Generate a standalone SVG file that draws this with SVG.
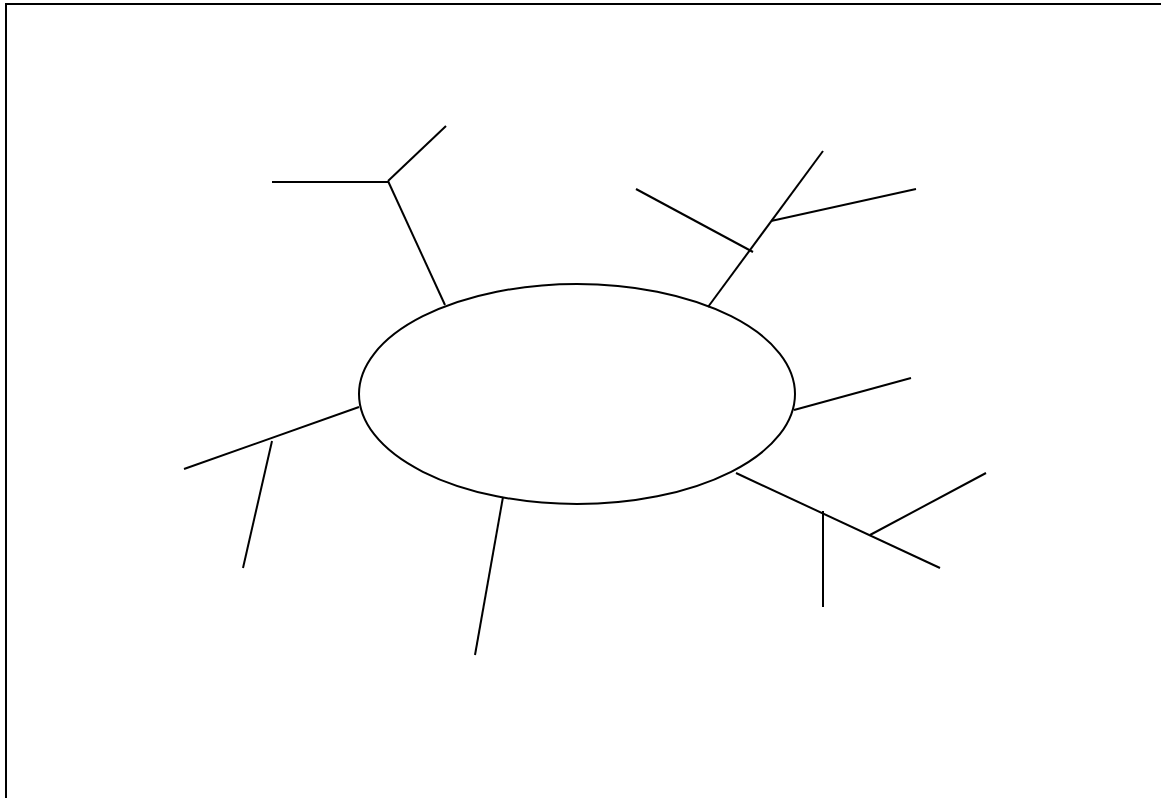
<svg xmlns="http://www.w3.org/2000/svg" width="1161" height="798" viewBox="0 0 1161 798">
<style>
.ln{stroke:#000;stroke-width:2;fill:none;stroke-linecap:butt}
</style>
<rect x="0" y="0" width="1161" height="798" fill="#fff"/>
<rect x="6" y="4" width="1165" height="810" fill="none" stroke="#000" stroke-width="2"/>
<g id="center">
<ellipse cx="577" cy="394" rx="218" ry="110" fill="#fff" stroke="#000" stroke-width="2"/>
</g>
<g id="connectors" class="ln">
<line x1="445" y1="305" x2="388" y2="181"/>
<line x1="388" y1="182" x2="272" y2="182"/>
<line x1="388" y1="181" x2="446" y2="126"/>
<line x1="708" y1="307" x2="823" y2="151"/>
<line x1="753" y1="252" x2="636" y2="189"/>
<line x1="771" y1="221" x2="916" y2="189"/>
<line x1="359" y1="407" x2="184" y2="469"/>
<line x1="272" y1="441" x2="243" y2="568"/>
<line x1="794" y1="410" x2="911" y2="378"/>
<line x1="736" y1="473" x2="940" y2="568"/>
<line x1="823" y1="511" x2="823" y2="607"/>
<line x1="870" y1="535" x2="986" y2="473"/>
<line x1="503" y1="497" x2="475" y2="655"/>
</g>
</svg>
